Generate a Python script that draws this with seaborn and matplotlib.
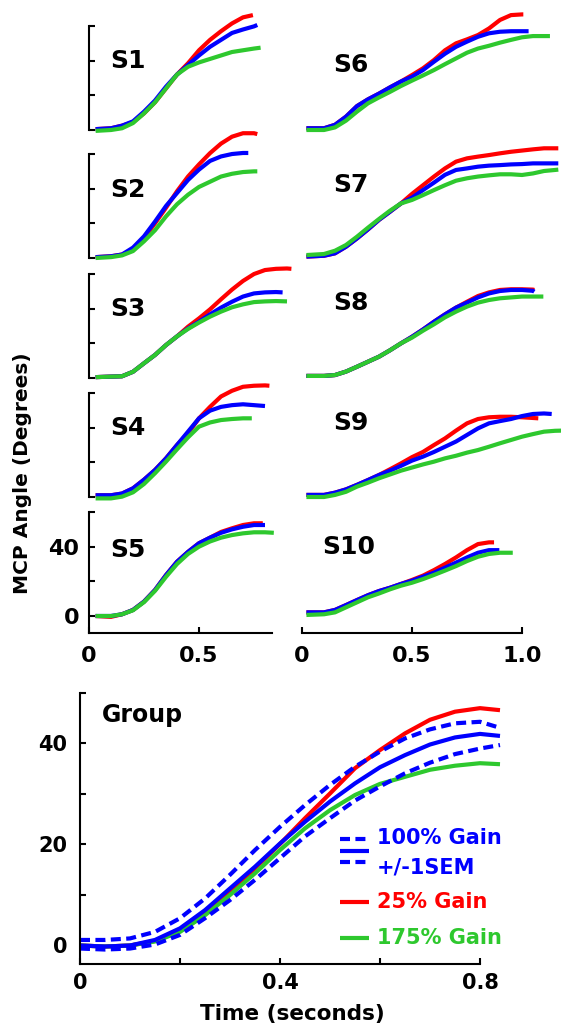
import numpy as np
import pandas as pd
import matplotlib
matplotlib.use("Agg")
import matplotlib.pyplot as plt
import seaborn as sns

# ---------------- data (degrees vs seconds) ----------------
GRID_L = [0.03] + [round(0.1 + 0.05 * i, 2) for i in range(17)]   # left column time grid
GRID_R = [0.02] + [round(0.1 + 0.05 * i, 2) for i in range(22)]   # right column time grid

S1_END = [0.745, 0.765, 0.78]      # red, blue, green end times
S1_RED = [0.5, 1, 2.5, 4.5, 9.6, 16, 24, 32, 38.5, 46, 52, 57, 61.5, 65, 66.3]
S1_BLUE = [0.5, 1, 2.5, 5, 10.6, 17, 25, 32, 37.5, 43, 48, 52, 56, 58, 59.8, 60.6]
S1_GREEN = [-0.5, 0, 1, 4, 9.6, 16, 24, 32, 36.5, 39, 41, 43, 45, 46, 47, 47.5]

S2_END = [0.765, 0.724, 0.765]
S2_RED = [0.5, 1, 2, 5, 11.5, 20, 29, 38.5, 47, 54, 60.5, 66, 70, 72, 72, 71.5]
S2_BLUE = [0.5, 1, 2, 6, 12.5, 21, 30, 37.5, 45, 51, 56, 58.6, 60, 60.6, 60.6]
S2_GREEN = [0, 0.5, 1.5, 4, 9.6, 16, 24, 31, 36.5, 41, 44, 47, 48.6, 49.6, 50, 50]

S3_END = [0.92, 0.88, 0.90]
S3_RED = [0.5, 0.8, 1, 3.6, 8.5, 13.3, 19, 24, 29.6, 34.4, 39.6, 45.4, 51, 56, 60, 62.3, 63, 63.2, 63]
S3_BLUE = [0.5, 0.8, 1, 3.6, 8.5, 13.3, 19, 24, 28.6, 32.5, 36.7, 40.6, 44, 47, 48.8, 49.4, 49.6, 49.4]
S3_GREEN = [0.5, 0.8, 1, 3.6, 8.5, 13.3, 19, 24, 28.3, 32, 35.4, 38.3, 40.8, 42.5, 43.8, 44.2, 44.4, 44.2]

S4_END = [0.82, 0.80, 0.74]
S4_RED = [1, 1, 2, 5, 10, 15.6, 22.3, 30, 36.7, 45.4, 52, 58, 61.3, 63.6, 64.2, 64.4, 64.2]
S4_BLUE = [1, 1, 2, 5, 10, 15.6, 22.3, 30, 37.7, 45.4, 49.8, 52, 53, 53.5, 53, 52.5]
S4_GREEN = [-0.8, -0.8, 0.2, 2.7, 7.5, 13.7, 20.4, 27.5, 34.4, 40.6, 43, 44.4, 45, 45.4, 45.4]

S5_END = [0.79, 0.80, 0.84]
S5_RED = [0, -0.5, 1, 3.5, 8.3, 15, 23.6, 31.3, 37, 42, 45.2, 48.5, 50.6, 52.5, 53.5, 53.5]
S5_BLUE = [0, 0, 1, 3.5, 8.3, 15, 23.6, 31.3, 37, 42, 45.2, 48, 50, 51.5, 52.5, 52.5]
S5_GREEN = [0, 0, 1, 3.3, 8, 14.5, 22.6, 30, 35.8, 40, 43, 45.2, 46.7, 47.7, 48.3, 48.3, 48]

S6_END = [1.006, 1.03, 1.127]
S6_RED = [1, 1, 3, 7.7, 13.8, 17.7, 21, 24.6, 28, 31.7, 35.6, 40.4, 46, 50, 52.3, 54.8, 58.6, 63.5, 66.3, 66.7, 66.7]
S6_BLUE = [1, 1, 3, 7.7, 13.8, 17.7, 21, 24.6, 28, 30.8, 34.6, 39.4, 44, 48, 51, 53.8, 55.8, 56.7, 57, 57, 57]
S6_GREEN = [0, 0, 1.5, 5.4, 10.6, 15.4, 18.8, 22, 25.4, 28.5, 31.5, 34.6, 38, 41.3, 44.6, 47, 48.6, 50.4, 52, 53.5, 54.2, 54.2, 54.2]

S7_END = [1.165, 1.165, 1.165]
S7_RED = [0.8, 1.3, 2.7, 6.5, 11.3, 16.5, 22, 26.7, 31.5, 37, 42, 47, 51.7, 55.6, 57.5, 58.5, 59.4, 60.4, 61.3, 62, 62.7, 63.3, 63.3, 63.3]
S7_BLUE = [0.8, 1.3, 2.7, 6.5, 11.3, 16.5, 22, 26.7, 31.5, 34.8, 39.2, 43.5, 48, 50.8, 51.7, 52.7, 53.3, 53.6, 54, 54.2, 54.6, 54.6, 54.6, 54.6]
S7_GREEN = [1.7, 2.3, 4.2, 7.5, 12.3, 17.5, 22.5, 27.3, 31.5, 33.5, 36.3, 39.2, 42, 44.6, 46, 47, 47.7, 48.3, 48.3, 47.9, 48.8, 50.2, 50.8, 51]

S8_END = [1.056, 1.056, 1.097]
S8_RED = [1.2, 1.2, 1.7, 3.7, 6.5, 9.4, 12.3, 16, 20, 23.8, 28, 32.5, 36.7, 40.6, 44, 47.3, 49.4, 50.8, 51.2, 51.2, 51, 50.8]
S8_BLUE = [1.2, 1.2, 1.7, 3.7, 6.5, 9.4, 12.3, 16, 20, 23.8, 28, 32.5, 36.7, 40.6, 43.5, 46.5, 48.8, 50.2, 50.8, 50.8, 50.3, 49.8]
S8_GREEN = [1.2, 1.2, 1.7, 3.7, 6.5, 9.4, 12.3, 16, 20, 23.3, 27.3, 31, 35, 38.3, 41.2, 43.5, 45, 46, 46.5, 47, 47, 47]

S9_END = [1.074, 1.135, 1.18]
S9_RED = [1.2, 1.2, 2.5, 4.4, 7, 9.8, 12.7, 16, 19.4, 23, 26, 30, 33.8, 38.3, 42.5, 45, 46, 46.3, 46.3, 46, 45.6, 45.4]
S9_BLUE = [1.2, 1.2, 2.5, 4.4, 7, 9.8, 12.7, 15.2, 18, 21, 23.3, 26, 29, 32, 35.8, 39.6, 42.5, 43.8, 45, 46.7, 47.9, 48.2, 47.9]
S9_GREEN = [0, 0, 1.2, 3, 6, 8.3, 10.8, 13, 15.2, 17, 18.8, 20.4, 22.3, 23.8, 25.6, 27.1, 29, 31, 32.9, 34.8, 36.3, 37.7, 38.2, 38.3]

S10_END = [0.873, 0.897, 0.958]
S10_RED = [2.1, 2.1, 3.5, 6.3, 9.2, 12, 14.4, 16.3, 18.5, 20.8, 23.3, 26.5, 30, 33.8, 38, 41.5, 42.5, 42.5]
S10_BLUE = [2.1, 2.1, 3.5, 6.3, 9.2, 12, 14.4, 16.3, 18.5, 20.4, 22.7, 25, 27.9, 30.8, 33.8, 36.5, 38, 38]
S10_GREEN = [0.6, 1, 2.1, 5, 7.9, 10.8, 13, 15.4, 17.5, 19.2, 21.3, 23.7, 26.2, 28.8, 31.7, 34.2, 35.8, 36.5, 36.5, 36.5]

GROUP_T = [0, 0.05, 0.1, 0.15, 0.2, 0.25, 0.3, 0.35, 0.4, 0.45, 0.5, 0.55, 0.6, 0.65, 0.7, 0.75, 0.8, 0.84]
G_BLUE = [-0.1, -0.3, -0.1, 1, 3.3, 6.9, 11.2, 15.5, 20.1, 24.4, 28.4, 32, 35.2, 37.6, 39.7, 41.1, 41.8, 41.4]
G_BLUE_HI = [1, 1, 1.3, 2.6, 5.3, 9.2, 13.9, 18.8, 23.4, 27.7, 31.7, 35.3, 38.3, 40.9, 42.7, 43.9, 44.2, 43]
G_BLUE_LO = [-0.7, -0.9, -0.7, 0.1, 2, 5.3, 8.9, 12.9, 17.2, 21.5, 25.1, 28.6, 31.4, 34, 36.1, 37.8, 38.9, 39.6]
G_RED = [-0.1, -0.3, -0.1, 0.8, 3, 6.4, 10.6, 15.2, 20, 25.1, 30, 35, 38.6, 41.9, 44.6, 46.2, 46.9, 46.5]
G_GREEN = [-0.1, -0.3, -0.1, 0.7, 2.6, 5.9, 9.9, 14.2, 18.8, 23.1, 26.7, 29.7, 31.9, 33.3, 34.7, 35.5, 36, 35.8]

SUBJECTS = ["S1", "S2", "S3", "S4", "S5", "S6", "S7", "S8", "S9", "S10"]
LEGEND_LABELS = ["100% Gain", "+/-1SEM", "25% Gain", "175% Gain"]

RED, BLUE, GREEN = "#ff0000", "#0000ff", "#2ec82e"

# ---------------- style ----------------
sns.set_theme(style="white")
plt.rcParams["font.family"] = ["DejaVu Sans"]
plt.rcParams["font.weight"] = "bold"
plt.rcParams["axes.labelweight"] = "bold"
for k in ["text.color", "axes.labelcolor", "xtick.color", "ytick.color", "axes.edgecolor"]:
    plt.rcParams[k] = "black"
plt.rcParams["lines.solid_joinstyle"] = "round"
plt.rcParams["lines.solid_capstyle"] = "butt"

W, H = 561, 1030
fig = plt.figure(figsize=(W / 100, H / 100), dpi=100)


def add_ax(left, top, w, h):
    return fig.add_axes([left / W, 1 - (top + h) / H, w / W, h / H])


PXDEG = 1.733
BASE = [130, 258, 378, 497, 616]
YL = (-10, 62)
panels = [
    (S1_END, S1_RED, S1_BLUE, S1_GREEN), (S2_END, S2_RED, S2_BLUE, S2_GREEN),
    (S3_END, S3_RED, S3_BLUE, S3_GREEN), (S4_END, S4_RED, S4_BLUE, S4_GREEN),
    (S5_END, S5_RED, S5_BLUE, S5_GREEN), (S6_END, S6_RED, S6_BLUE, S6_GREEN),
    (S7_END, S7_RED, S7_BLUE, S7_GREEN), (S8_END, S8_RED, S8_BLUE, S8_GREEN),
    (S9_END, S9_RED, S9_BLUE, S9_GREEN), (S10_END, S10_RED, S10_BLUE, S10_GREEN),
]
LABEL_POS = [(0.095, 40), (0.095, 39), (0.095, 40), (0.095, 40), (0.095, 38),
             (0.14, 37.5), (0.14, 42), (0.14, 43), (0.14, 42.7), (0.09, 40)]


def curve_times(grid, n, end):
    ts = [g for g in grid if g < end - 1e-9][: n - 1]
    return ts + [end]


for i, (ends, r, b, g) in enumerate(panels):
    col = 0 if i < 5 else 1
    row = i % 5
    base = BASE[row]
    top = base - YL[1] * PXDEG
    h = (YL[1] - YL[0]) * PXDEG
    if col == 0:
        ax = add_ax(89, top, 0.95 * 220, h)
        ax.set_xlim(0, 0.95)
        grid = GRID_L
    else:
        ax = add_ax(302, top, 1.18 * 220, h)
        ax.set_xlim(0, 1.18)
        grid = GRID_R
    ax.set_ylim(*YL)
    for vals, end, c in [(r, ends[0], RED), (b, ends[1], BLUE), (g, ends[2], GREEN)]:
        t = curve_times(grid, len(vals), end)
        df = pd.DataFrame({"t": t, "deg": vals})
        sns.lineplot(data=df, x="t", y="deg", color=c, lw=3, ax=ax, clip_on=False)
    ax.set_xlabel("")
    ax.set_ylabel("")
    ax.patch.set_alpha(0)
    for s in ["top", "right"]:
        ax.spines[s].set_visible(False)
    for s in ["left", "bottom"]:
        ax.spines[s].set_color("black")
        ax.spines[s].set_linewidth(1.5)
    ax.tick_params(direction="in", length=4, width=1.5, colors="black",
                   labelsize=16, pad=7, left=True, bottom=True)
    # left column: y axis
    if col == 0:
        ax.set_yticks([0, 20, 40, 60])
        if row == 4:
            ax.set_yticklabels(["0", "", "40", ""])
            ax.spines["left"].set_bounds(YL[0], 60)
        else:
            ax.set_yticklabels([])
            ax.spines["left"].set_bounds(0, 60)
    else:
        ax.spines["left"].set_visible(False)
        ax.set_yticks([])
    # bottom row: x axis
    if row == 4:
        if col == 0:
            ax.set_xticks([0, 0.5])
            ax.set_xticklabels(["0", "0.5"])
            ax.spines["bottom"].set_bounds(0, 0.83)
        else:
            ax.set_xticks([0, 0.5, 1.0])
            ax.set_xticklabels(["0", "0.5", "1.0"])
            ax.spines["bottom"].set_bounds(0, 1.0)
        ax.tick_params(axis="x", pad=9)
    else:
        ax.spines["bottom"].set_visible(False)
        ax.set_xticks([])
    lx, ly = LABEL_POS[i]
    ax.text(lx, ly, SUBJECTS[i], fontsize=18, fontweight="bold", ha="left",
            va="center", color="black")

fig.text(23 / W, 1 - 473 / H, "MCP Angle (Degrees)", rotation=90, ha="center",
         va="center", fontsize=14.5, fontweight="bold", color="black")

# ---------------- group panel ----------------
GPX = 5.05
gax = add_ax(80, 945 - 50 * GPX, 0.85 * 500, 53.8 * GPX)
gax.set_xlim(0, 0.85)
gax.set_ylim(-3.8, 50)
gax.patch.set_alpha(0)

dfg = pd.DataFrame({"t": GROUP_T, "hi": G_BLUE_HI, "lo": G_BLUE_LO, "mean": G_BLUE,
                    "red": G_RED, "green": G_GREEN})
sns.lineplot(data=dfg, x="t", y="red", color=RED, lw=3, ax=gax, clip_on=False)
sns.lineplot(data=dfg, x="t", y="green", color=GREEN, lw=3, ax=gax, clip_on=False)
sns.lineplot(data=dfg, x="t", y="mean", color=BLUE, lw=3, ax=gax, clip_on=False)
for col in ["hi", "lo"]:
    sns.lineplot(data=dfg, x="t", y=col, color=BLUE, lw=3, ax=gax, clip_on=False)
    gax.lines[-1].set_dashes([2.4, 1.3])

for s in ["top", "right"]:
    gax.spines[s].set_visible(False)
for s in ["left", "bottom"]:
    gax.spines[s].set_color("black")
    gax.spines[s].set_linewidth(1.5)
gax.spines["bottom"].set_bounds(0, 0.8)
gax.set_xticks([0, 0.2, 0.4, 0.6, 0.8])
gax.set_xticklabels(["0", "", "0.4", "", "0.8"])
gax.set_yticks([0, 10, 20, 30, 40, 50])
gax.set_yticklabels(["0", "", "20", "", "40", ""])
gax.tick_params(direction="in", length=4, width=1.5, colors="black", labelsize=15,
                left=True, bottom=True)
gax.tick_params(axis="x", pad=6)
gax.tick_params(axis="y", pad=9)
gax.set_ylabel("")
gax.set_xlabel("Time (seconds)", fontsize=15.5, fontweight="bold", labelpad=8,
               color="black")
gax.text(0.044, 45.5, "Group", fontsize=17, fontweight="bold", ha="left",
         va="center", color="black")

# legend keys (axes fraction)
tr = gax.transAxes
kx = [0.612, 0.680]
l1, = gax.plot(kx, [0.460, 0.460], color=BLUE, lw=3, transform=tr, clip_on=False)
l1.set_dashes([2.4, 1.3])
gax.plot(kx, [0.416, 0.416], color=BLUE, lw=3, transform=tr, clip_on=False)
l2, = gax.plot(kx, [0.376, 0.376], color=BLUE, lw=3, transform=tr, clip_on=False)
l2.set_dashes([2.4, 1.3])
gax.plot(kx, [0.228, 0.228], color=RED, lw=3, transform=tr, clip_on=False)
gax.plot(kx, [0.096, 0.096], color=GREEN, lw=3, transform=tr, clip_on=False)
tx = 0.699
gax.text(tx, 0.464, LEGEND_LABELS[0], color=BLUE, transform=tr, fontsize=15,
         fontweight="bold", va="center", ha="left")
gax.text(tx, 0.357, LEGEND_LABELS[1], color=BLUE, transform=tr, fontsize=15,
         fontweight="bold", va="center", ha="left")
gax.text(tx, 0.228, LEGEND_LABELS[2], color=RED, transform=tr, fontsize=15,
         fontweight="bold", va="center", ha="left")
gax.text(tx, 0.096, LEGEND_LABELS[3], color=GREEN, transform=tr, fontsize=15,
         fontweight="bold", va="center", ha="left")

fig.savefig("out.png", dpi=100, facecolor="white")
